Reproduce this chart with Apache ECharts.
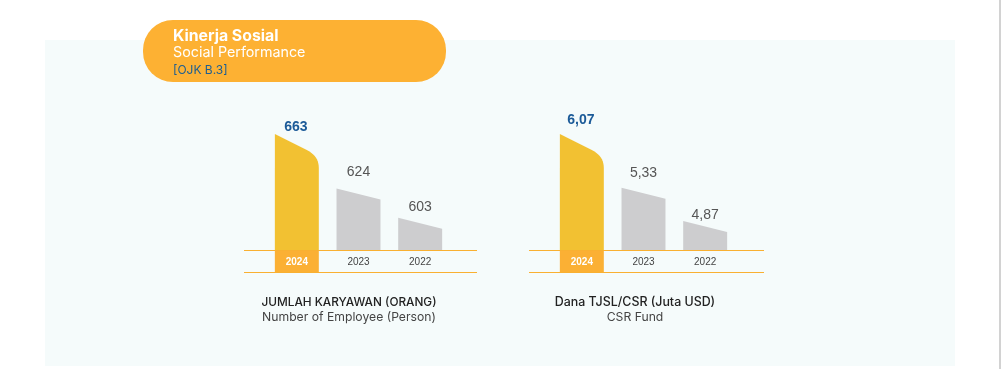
<!DOCTYPE html>
<html>
<head>
<meta charset="utf-8">
<script src="https://cdn.jsdelivr.net/npm/echarts@6/dist/echarts.min.js"></script>
<style>
html,body{margin:0;padding:0;background:#ffffff;}
#c{width:1003px;height:369px;}
</style>
</head>
<body>
<div id="c"></div>
<script>
// ---- data ----
const years = ['2024', '2023', '2022'];
const employees = [663, 624, 603];
const csrFund = [6.07, 5.33, 4.87];
const employeeTitle = ['JUMLAH KARYAWAN (ORANG)', 'Number of Employee (Person)'];
const csrTitle = ['Dana TJSL/CSR (Juta USD)', 'CSR Fund'];
const badgeText = ['Kinerja Sosial', 'Social Performance', '[OJK B.3]'];

// ---- style (label offsets above bar tops, px) ----
const empLabelOffset = [7, 16, 11];
const csrLabelOffset = [14, 15, 6];

const numFont = '"Liberation Sans", Arial, sans-serif';
const uiFont = 'Inter, "Noto Sans", sans-serif';

function makeRender(yMin, fmt, offsets) {
  return function (params, api) {
    const idx = api.value(0);
    const v = api.value(1);
    const top = api.coord([idx, v]);
    const base = api.coord([idx, yMin]);
    const w = api.size([1, 0])[0] * 0.713;
    const x0 = top[0] - w / 2, x1 = top[0] + w / 2;
    const ty = top[1], by = base[1];
    const children = [];
    let pts;
    if (idx === 0) {
      pts = [[x0, ty], [x1 - 12, ty + 16]];
      const p0 = [x1 - 12, ty + 16], c = [x1, ty + 22], p1 = [x1, ty + 34];
      for (let i = 1; i <= 10; i++) {
        const t = i / 10, u = 1 - t;
        pts.push([u * u * p0[0] + 2 * u * t * c[0] + t * t * p1[0],
                  u * u * p0[1] + 2 * u * t * c[1] + t * t * p1[1]]);
      }
      pts.push([x1, by], [x0, by]);
      children.push({
        type: 'rect',
        shape: { x: x0, y: by, width: w, height: 22 },
        style: { fill: '#FBB034' }
      });
    } else {
      pts = [[x0, ty], [x1, ty + 11], [x1, by], [x0, by]];
    }
    children.push({
      type: 'polygon',
      shape: { points: pts },
      style: { fill: idx === 0 ? '#F2C132' : '#CDCDCF' }
    });
    children.push({
      type: 'text',
      style: {
        text: fmt(v),
        x: top[0] - (idx === 0 ? 1 : 0),
        y: ty - offsets[idx],
        align: 'center',
        verticalAlign: 'middle',
        fill: idx === 0 ? '#1B5A98' : '#555555',
        font: (idx === 0 ? 'bold ' : '') + '14px ' + numFont
      }
    });
    return { type: 'group', children: children };
  };
}

function xAxisFor(gi) {
  return {
    type: 'category',
    gridIndex: gi,
    data: years,
    z: 10,
    axisLine: { show: false },
    axisTick: { show: false },
    axisLabel: {
      margin: 7,
      formatter: function (v, i) { return i === 0 ? '{h|' + v + '}' : '{n|' + v + '}'; },
      rich: {
        h: { color: '#ffffff', fontWeight: 'bold', fontSize: 10, fontFamily: numFont },
        n: { color: '#444444', fontSize: 10, fontFamily: numFont }
      }
    }
  };
}

function yAxisFor(gi, min, max) {
  return {
    type: 'value', gridIndex: gi, min: min, max: max,
    show: false, splitLine: { show: false }
  };
}

const empMin = 580, empMax = 663;
const csrMin = 4.47, csrMax = 6.07;

const lineColor = '#F9B031';
function hline(x1, x2, y) {
  return { type: 'line', z: 20, shape: { x1: x1, y1: y, x2: x2, y2: y }, style: { stroke: lineColor, lineWidth: 1.2 } };
}
function txt(x, y, text, font, fill, align) {
  return { type: 'text', z: 20, style: { x: x, y: y, text: text, font: font, fill: fill, align: align || 'center', verticalAlign: 'middle' } };
}

const chart = echarts.init(document.getElementById('c'), null, { renderer: 'canvas' });
chart.setOption({
  animation: false,
  backgroundColor: '#ffffff',
  grid: [
    { left: 266, top: 134, width: 185, height: 116 },
    { left: 551, top: 134, width: 185, height: 116 }
  ],
  xAxis: [xAxisFor(0), xAxisFor(1)],
  yAxis: [yAxisFor(0, empMin, empMax), yAxisFor(1, csrMin, csrMax)],
  series: [
    {
      type: 'custom', xAxisIndex: 0, yAxisIndex: 0, z: 5,
      data: employees.map((v, i) => [i, v]),
      renderItem: makeRender(empMin, v => String(v), empLabelOffset)
    },
    {
      type: 'custom', xAxisIndex: 1, yAxisIndex: 1, z: 5,
      data: csrFund.map((v, i) => [i, v]),
      renderItem: makeRender(csrMin, v => v.toFixed(2).replace('.', ','), csrLabelOffset)
    }
  ],
  graphic: [
    { type: 'rect', z: -10, silent: true, shape: { x: 45, y: 40, width: 910, height: 326 }, style: { fill: '#F5FBFB' } },
    { type: 'rect', z: -10, silent: true, shape: { x: 999, y: 0, width: 2, height: 369 }, style: { fill: '#D2D2D2' } },
    { type: 'rect', z: 15, shape: { x: 143, y: 20, width: 303, height: 62, r: 30 }, style: { fill: '#FDB133' } },
    txt(173, 36, badgeText[0], 'bold 15.8px ' + uiFont, '#ffffff', 'left'),
    txt(173, 53, badgeText[1], '14.3px ' + uiFont, '#ffffff', 'left'),
    txt(173, 70, badgeText[2], '12px ' + uiFont, '#1C5E92', 'left'),
    hline(244, 477, 250.5), hline(244, 477, 272.5),
    hline(529, 764, 250.5), hline(529, 764, 272.5),
    txt(349, 302, employeeTitle[0], '500 11.8px ' + uiFont, '#222222'),
    txt(349, 317, employeeTitle[1], '12.2px ' + uiFont, '#444444'),
    txt(635, 302, csrTitle[0], '500 12.4px ' + uiFont, '#222222'),
    txt(635, 317, csrTitle[1], '12.2px ' + uiFont, '#444444')
  ]
});
</script>
</body>
</html>
